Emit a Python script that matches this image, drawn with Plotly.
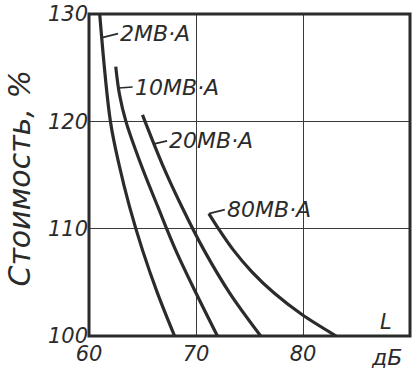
import numpy as np
import plotly.graph_objects as go

# Data
s2_x = [61.0, 62.0, 62.8, 63.8, 65.0, 66.4, 68.0]
s2_y = [130, 120, 116, 112, 108, 104, 100]
s10_x = [62.5, 62.85, 63.45, 64.85, 66.45, 68.1, 70.0, 72.0]
s10_y = [125.1, 122.5, 120, 116, 112, 108, 104, 100]
s20_x = [65.0, 66.85, 68.7, 70.75, 73.15, 76.05]
s20_y = [120.6, 116, 112, 108, 104, 100]
s80_x = [71.2, 72.1, 73.5, 75.2, 77.3, 79.9, 83.1]
s80_y = [111.4, 110, 108, 106, 104, 102, 100]

series_names = ["2МВ·А", "10МВ·А", "20МВ·А", "80МВ·А"]
label_y = [127.8, 123.1, 117.9, 111.4]   # where the leader touches each curve

x_ticks = [60, 70, 80]
y_ticks = [100, 110, 120, 130]
x_unit = "дБ"
x_symbol = "L"
y_title = "Стоимость, %"

series = [(s2_x, s2_y), (s10_x, s10_y), (s20_x, s20_y), (s80_x, s80_y)]

ink = "#2b2b2b"
font_family = "DejaVu Sans"

fig = go.Figure()
for (xs, ys), name in zip(series, series_names):
    fig.add_trace(go.Scatter(x=xs, y=ys, mode="lines", name=name,
                             line=dict(color=ink, width=3.2, shape="spline", smoothing=1.0),
                             hoverinfo="skip", showlegend=False))

offsets = [(16, -4), (14, -1), (13, -3), (16, -4)]
for (xs, ys), name, ly, (ax, ay) in zip(series, series_names, label_y, offsets):
    lx = float(np.interp(ly, ys[::-1], xs[::-1]))
    fig.add_annotation(x=lx, y=ly, text=name, showarrow=True, arrowhead=0,
                       arrowwidth=1.6, arrowcolor=ink, ax=ax, ay=ay,
                       xanchor="left", yanchor="middle",
                       font=dict(family=font_family, size=22, color=ink, style="italic"))

fig.add_annotation(x=87.8, y=101.35, text=x_symbol, showarrow=False,
                   font=dict(family=font_family, size=21, color=ink, style="italic"))
fig.add_annotation(x=87.8, xref="x", y=-0.068, yref="paper", text=x_unit,
                   showarrow=False, yanchor="middle",
                   font=dict(family=font_family, size=22, color=ink, style="italic"))
fig.add_annotation(x=-0.217, xref="paper", y=0.49, yref="paper", text=y_title,
                   textangle=-90, showarrow=False, xanchor="center", yanchor="middle",
                   font=dict(family=font_family, size=30, color=ink, style="italic"))

# frame drawn explicitly on all four sides
fig.add_shape(type="rect", xref="paper", yref="paper", x0=0, y0=0, x1=1, y1=1,
              line=dict(color=ink, width=3), layer="above")

axis_common = dict(showline=False, showgrid=True, gridcolor="#3a3a3a", gridwidth=1.4,
                   zeroline=False, ticks="", ticklabeloverflow="allow",
                   tickfont=dict(family=font_family, size=21, color=ink, style="italic"))

fig.update_xaxes(range=[60, 90], tickvals=x_ticks, ticktext=[str(v) for v in x_ticks],
                 ticklabelstandoff=3, **axis_common)
fig.update_yaxes(range=[100, 130], tickvals=y_ticks, ticktext=[str(v) for v in y_ticks],
                 **axis_common)

fig.update_layout(width=413, height=370, margin=dict(l=89, r=3, t=14, b=34),
                  plot_bgcolor="white", paper_bgcolor="white")

fig.write_html("out.html", config={"displayModeBar": False},
               post_script="document.body.style.margin='0';document.body.style.padding='0';")
